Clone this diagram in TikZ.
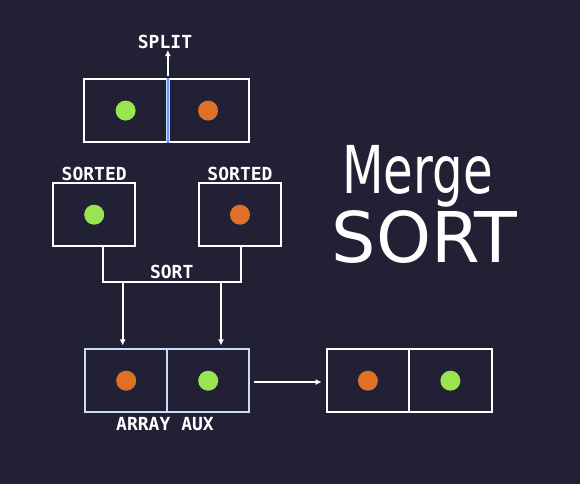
\documentclass[tikz,border=0pt]{standalone}
\usepackage{fontspec}
\usepackage{graphicx}
\usetikzlibrary{arrows.meta,calc}
\newfontfamily\pixfont{DejaVu Sans Mono}
\newfontfamily\handfont{DejaVu Sans}
\definecolor{bg}{HTML}{222034}
\definecolor{dotgreen}{HTML}{99E550}
\definecolor{dotorange}{HTML}{DF7126}
\definecolor{lightblue}{HTML}{CBDBFC}
\definecolor{midblue}{HTML}{639BFF}
\tikzset{
  cell/.style={draw=white, line width=2pt, minimum width=82.5pt, minimum height=62.5pt, inner sep=0pt},
  auxcell/.style={cell, draw=lightblue},
  dot/.style={circle, inner sep=0pt, minimum size=20pt},
  pixlabel/.style={text=white, font=\pixfont\bfseries\fontsize{18}{20}\selectfont, inner sep=1pt},
  conn/.style={draw=white, line width=2pt},
  arr/.style={conn, -{Latex[length=6pt,width=6pt]}},
}
\begin{document}
\begin{tikzpicture}[x=1pt,y=-1pt]
\fill[bg] (0,0) rectangle (580,484);
\useasboundingbox (0,0) rectangle (580,484);

% top split array
\node[cell] (tl) at (125.6,110.6) {};
\node[cell] (tr) at (208.1,110.6) {};
\draw[lightblue, line width=4pt] (tl.north east) -- (tl.south east);
\draw[midblue, line width=2pt] (tl.north east) -- (tl.south east);
\node[dot, fill=dotgreen] (g1) at (tl.center) {};
\node[dot, fill=dotorange] (o1) at (tr.center) {};
\node[pixlabel] (split) at (165,42) {SPLIT};
\draw[arr, shorten <=2pt] (tl.north east) -- (split.south -| tl.north east);

% sorted boxes
\node[cell] (sl) at (94.2,214.7) {};
\node[cell] (sr) at (240,214.7) {};
\node[dot, fill=dotgreen] (g2) at (sl.center) {};
\node[dot, fill=dotorange] (o2) at (sr.center) {};
\node[pixlabel] (sortedl) at (94.2,174) {SORTED};
\node[pixlabel] (sortedr) at (240,174) {SORTED};

% sort bracket
\coordinate (bl) at (103,282);
\coordinate (br) at (241,282);
\draw[conn] (sl.south -| bl) -- (bl) -- (br) -- (sr.south -| br);
\node[pixlabel] (sortlbl) at (171.7,272) {SORT};
\coordinate (d1) at (122.7,282);
\coordinate (d2) at (221,282);

% aux array
\node[auxcell] (al) at (126.2,380.7) {};
\node[auxcell] (ar) at (208.2,380.7) {};
\node[dot, fill=dotorange] (o3) at (al.center) {};
\node[dot, fill=dotgreen] (g3) at (ar.center) {};
\node[pixlabel] (auxlbl) at (165,424) {ARRAY AUX};
\draw[arr, shorten >=3pt] (d1) -- (d1 |- al.north);
\draw[arr, shorten >=3pt] (d2) -- (d2 |- ar.north);

% result array
\node[cell] (rl) at (367.9,380.7) {};
\node[cell] (rr) at (450.4,380.7) {};
\node[dot, fill=dotorange] (o4) at (rl.center) {};
\node[dot, fill=dotgreen] (g4) at (rr.center) {};
\draw[arr, shorten <=4pt, shorten >=4pt] (ar.east |- 0,382) -- (rl.west |- 0,382);

% title
\node[text=white, inner sep=0pt] (t1) at (417.5,176) {\scalebox{0.73}[1]{\handfont\fontsize{66}{70}\selectfont Merge}};
\node[text=white, inner sep=0pt] (t2) at (424.5,237) {\handfont\fontsize{70}{73}\selectfont SORT};
\end{tikzpicture}
\end{document}
